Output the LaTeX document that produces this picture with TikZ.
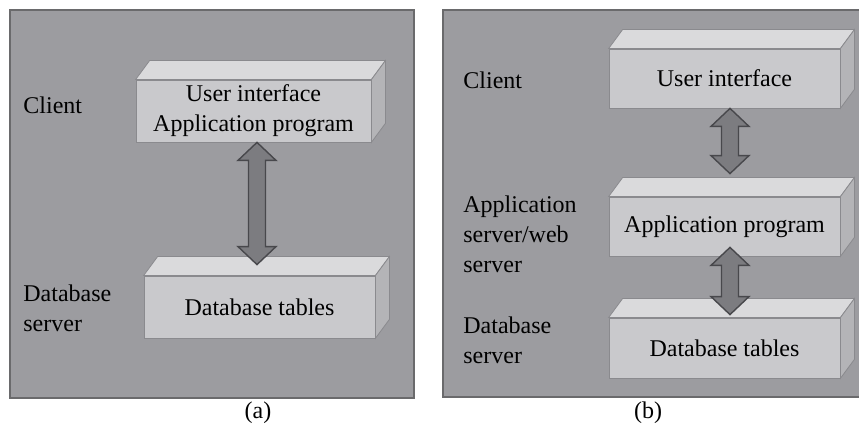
\documentclass[tikz,border=0pt]{standalone}
\usepackage{fontspec}
\setmainfont{Liberation Serif}
\usepackage{tikz}
\usetikzlibrary{
    calc,
    positioning
}

\definecolor{panelfill}{RGB}{156,156,160}
\definecolor{panelrim}{RGB}{106,106,108}
\definecolor{facefill}{RGB}{201,201,204}
\definecolor{topfill}{RGB}{218,218,220}
\definecolor{sidefill}{RGB}{180,180,183}
\definecolor{facerim}{RGB}{138,138,142}
\definecolor{arrowfill}{RGB}{124,124,128}
\definecolor{arrowrim}{RGB}{72,72,76}

% fat double arrow from tip #1 (top) to tip #2 (bottom)
\newcommand{\dblarrow}[2]{%
  \filldraw[fatarrow] (#1) -- ++(19,18) -- ++(-10.5,0)
    -- ($(#2)+(8.5,-18)$) -- ++(10.5,0) -- (#2)
    -- ++(-19,-18) -- ++(10.5,0)
    -- ($(#1)+(-8.5,18)$) -- ++(-10.5,0) -- cycle;}

\begin{document}
\begin{tikzpicture}[x=0.5pt,y=-0.5pt,
    panel/.style={fill=panelfill},
    rim/.style={draw=panelrim,line width=1pt},
    face/.style={draw=facerim,fill=facefill,inner sep=0pt,align=center,
                 font=\fontsize{12}{15}\selectfont},
    topface/.style={draw=facerim,fill=topfill},
    sideface/.style={draw=facerim,fill=sidefill},
    tier/.style={anchor=west,inner sep=0pt,align=left,
                 font=\fontsize{12}{15}\selectfont},
    caption/.style={inner sep=0pt,font=\fontsize{12}{15}\selectfont},
    fatarrow/.style={draw=arrowrim,fill=arrowfill,line width=0.7pt}]

\useasboundingbox (0,0) rectangle (859,427);

%====================================================
% (a) two tiers
%====================================================

\fill[panel] (10,10) rectangle (414,398);
\draw[rim] (10,10) rectangle (414,398);

\node[face,minimum width=117.5pt,minimum height=31pt] (ui) at (253.5,111)
  {User interface\\Application program};
\node[face,minimum width=115.5pt,minimum height=31pt] (db) at (259.5,307)
  {Database tables};

\foreach \b in {ui,db}{
  \filldraw[topface] (\b.north west) -- ++(14,-19)
    -- ($(\b.north east)+(14,-19)$) -- (\b.north east) -- cycle;
  \filldraw[sideface] (\b.north east) -- ++(14,-19)
    -- ($(\b.south east)+(14,-19)$) -- (\b.south east) -- cycle;
}

\node[tier] (client) at (23,105) {Client};
\node[tier] (dbserver) at (23,308) {Database\\server};

\coordinate (uiB) at ($(ui.south)+(3.5,0)$);
\coordinate (dbT) at ($(db.north)+(-2.5,-11)$);
\dblarrow{uiB}{dbT}

\node[caption] (capa) at (258,413) {(a)};

%====================================================
% (b) three tiers
%====================================================

\fill[panel] (443,10) rectangle (859,397);
\draw[rim] (859,10) -- (443,10) -- (443,397) -- (859,397);

\node[face,minimum width=115.5pt,minimum height=29.5pt] (uib) at (724.5,78.5)
  {User interface};
\node[face,minimum width=115.5pt,minimum height=29.5pt] (apb) at (724.5,226.5)
  {Application program};
\node[face,minimum width=115.5pt,minimum height=30pt] (dbb) at (724.5,348)
  {Database tables};

\foreach \b in {uib,apb,dbb}{
  \filldraw[topface] (\b.north west) -- ++(14,-19)
    -- ($(\b.north east)+(14,-19)$) -- (\b.north east) -- cycle;
  \filldraw[sideface] (\b.north east) -- ++(14,-19)
    -- ($(\b.south east)+(14,-19)$) -- (\b.south east) -- cycle;
}

\node[tier] (clientb) at (463,80) {Client};
\node[tier] (appserver) at (463,234) {Application\\server/web\\server};
\node[tier] (dbserverb) at (463,340) {Database\\server};

\coordinate (uibB) at ($(uib.south)+(5.5,0)$);
\coordinate (apbT) at ($(apb.north)+(5.5,-23)$);
\dblarrow{uibB}{apbT}

\coordinate (apbB) at ($(apb.south)+(5.5,-9)$);
\coordinate (dbbT) at ($(dbb.north)+(5.5,-3)$);
\dblarrow{apbB}{dbbT}

\node[caption] (capb) at (648,413) {(b)};

\end{tikzpicture}
\end{document}
